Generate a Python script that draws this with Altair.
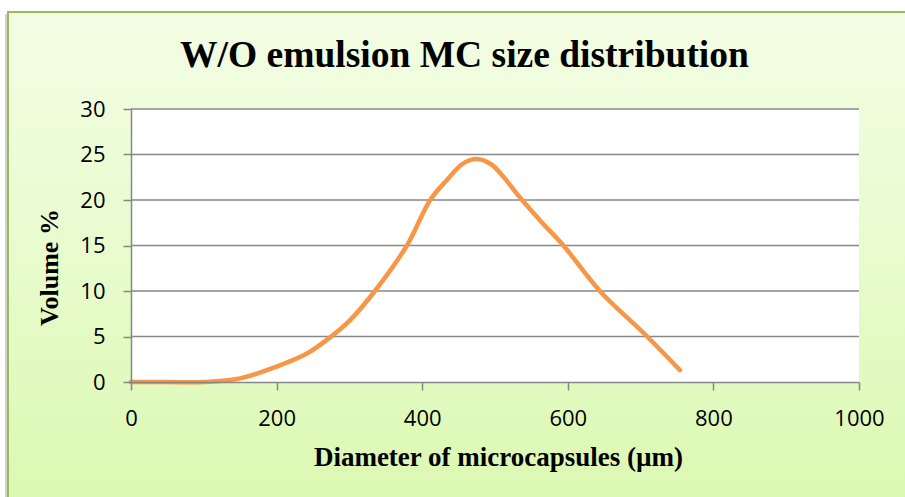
import altair as alt
import pandas as pd

# Data
diameter = [0, 50, 100, 150, 200, 241, 275, 301, 335, 379, 411, 434, 456, 475,
            495, 511, 534, 566, 594, 644, 709, 754]
volume = [0, 0, 0, 0.4, 1.7, 3.1, 5.0, 6.8, 10.0, 15.0, 20.0, 22.2, 24.0, 24.5,
          23.9, 22.6, 20.3, 17.4, 15.0, 10.0, 5.0, 1.3]
x_ticks = [0, 200, 400, 600, 800, 1000]
y_ticks = [0, 5, 10, 15, 20, 25, 30]
title_text = "W/O emulsion MC size distribution"
x_title = "Diameter of microcapsules (µm)"
y_title = "Volume %"

W, H = 728, 273
PL, PT, PR, PB = 131, 109, 46, 115

df = pd.DataFrame({"d": diameter, "v": volume})
grid_df = pd.DataFrame({"v": [t for t in y_ticks if t > 0]})

xscale = alt.Scale(domain=[0, 1000], nice=False)
yscale = alt.Scale(domain=[0, 30], nice=False)

GRAY = "#878787"

x_axis = alt.Axis(
    values=x_ticks, title=x_title, format="d",
    grid=False, labelFlush=False, labelOverlap=False,
    labelFont="Open Sans", labelFontSize=22, labelColor="black",
    labelBaseline="alphabetic", labelPadding=35,
    tickSize=8, tickColor=GRAY, tickWidth=1.5,
    domainColor=GRAY, domainWidth=1.5,
    titleFont="Liberation Serif", titleFontSize=27, titleFontWeight="bold",
    titleColor="black", titleX=367, titleY=83, titleAlign="center",
    titleBaseline="alphabetic", zindex=1,
)
y_axis = alt.Axis(
    values=y_ticks, title=y_title, format="d",
    grid=False, labelOverlap=False,
    labelFont="Open Sans", labelFontSize=22, labelColor="black",
    labelBaseline="middle", labelPadding=18,
    tickSize=8, tickColor=GRAY, tickWidth=1.5,
    domainColor=GRAY, domainWidth=1.5,
    titleFont="Liberation Serif", titleFontSize=26, titleFontWeight="bold",
    titleColor="black", titleAngle=270, titleX=-74, titleY=158,
    titleAlign="center", titleBaseline="alphabetic", zindex=1,
)

one = alt.Data(values=[{}])

bg = alt.Chart(one).mark_rect(
    fill=alt.Gradient(
        gradient="linear",
        stops=[alt.GradientStop(color="#F3FDE4", offset=0),
               alt.GradientStop(color="#EAFCD2", offset=0.4),
               alt.GradientStop(color="#DBF8B1", offset=1)],
        x1=0, x2=0, y1=0, y2=1),
    stroke="#9BBB59", strokeWidth=2, clip=False
).encode(
    x=alt.value(8 - PL), x2=alt.value(905 - PL + 10),
    y=alt.value(12 - PT), y2=alt.value(497 - PT + 10),
)

shadow = alt.Chart(one).mark_rule(
    color="#D0D0D0", strokeWidth=2, clip=False
).encode(
    x=alt.value(6 - PL), y=alt.value(14 - PT), y2=alt.value(497 - PT + 10),
)

plot_bg = alt.Chart(one).mark_rect(fill="white").encode(
    x=alt.value(0), x2=alt.value(W), y=alt.value(0), y2=alt.value(H),
)

title = alt.Chart(one).mark_text(
    font="Liberation Serif", fontSize=37.5, fontWeight="bold", color="black",
    align="center", baseline="alphabetic", clip=False
).encode(
    x=alt.value(464.5 - PL), y=alt.value(67 - PT), text=alt.value(title_text),
)

grid = alt.Chart(grid_df).mark_rule(color=GRAY, strokeWidth=1.5).encode(
    y=alt.Y("v:Q", scale=yscale, axis=y_axis),
    x=alt.value(0), x2=alt.value(W),
)

line = alt.Chart(df).mark_line(
    color="#F79646", strokeWidth=4.5, interpolate="catmull-rom", strokeCap="round",
    strokeJoin="round"
).encode(
    x=alt.X("d:Q", scale=xscale, axis=x_axis),
    y=alt.Y("v:Q", scale=yscale, axis=y_axis),
)

chart = alt.layer(shadow, bg, plot_bg, title, grid, line).properties(
    width=W, height=H,
    autosize=alt.AutoSizeParams(type="none"),
    padding={"left": PL, "top": PT, "right": PR, "bottom": PB},
).configure(background="white").configure_view(stroke=None)

chart.save("out.html", embed_options={"renderer": "svg", "actions": False})
